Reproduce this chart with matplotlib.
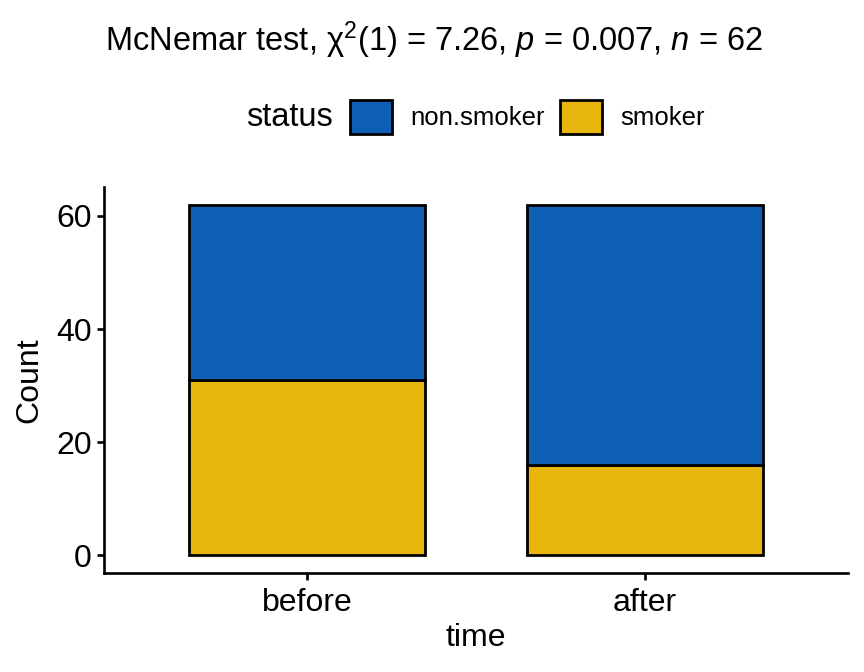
import matplotlib
matplotlib.use("Agg")
import matplotlib.pyplot as plt
from matplotlib.patches import Patch
import numpy as np

plt.rcParams['font.family'] = ['Liberation Sans', 'DejaVu Sans']
plt.rcParams['mathtext.fontset'] = 'custom'
plt.rcParams['mathtext.rm'] = 'Liberation Sans'
plt.rcParams['mathtext.it'] = 'Liberation Sans:italic'
plt.rcParams['mathtext.sf'] = 'Liberation Sans'

times = ["before", "after"]
statuses = ["non.smoker", "smoker"]
smoker = [31, 16]
non_smoker = [31, 46]
colors = {"non.smoker": "#0E5EB6", "smoker": "#E8B50C"}
y_ticks = [0, 20, 40, 60]

fig = plt.figure(figsize=(8.64, 6.72), dpi=100)
W, H = 864, 672
ax = fig.add_axes([104 / W, (H - 573) / H, (848 - 104) / W, (573 - 187) / H])

x = np.arange(len(times))
lw = 2.0
ax.bar(x, smoker, width=0.7, color=colors["smoker"], edgecolor="black", linewidth=lw)
ax.bar(x, non_smoker, width=0.7, bottom=smoker, color=colors["non.smoker"],
       edgecolor="black", linewidth=lw)

ax.set_xlim(-0.6, 1.6)
total = max(s + n for s, n in zip(smoker, non_smoker))
ax.set_ylim(-0.05 * total, total * 1.05)
ax.set_xticks(x)
ax.set_xticklabels(times)
ax.set_yticks(y_ticks)
for side in ["top", "right"]:
    ax.spines[side].set_visible(False)
for side in ["left", "bottom"]:
    ax.spines[side].set_linewidth(1.9)
ax.tick_params(axis="both", labelsize=23, width=1.9, length=5, color="black", pad=4)
ax.tick_params(axis="x", pad=5.5)
ax.set_xlabel("time", fontsize=23, labelpad=4)
ax.set_ylabel("Count", fontsize=23, labelpad=8)

fig.text(434 / W, 1 - 40 / H,
         r"McNemar test, χ$^{2}$(1) = 7.26, $\mathit{p}$ = 0.007, $\mathit{n}$ = 62",
         ha="center", va="center", fontsize=23.5)

handles = [Patch(facecolor=colors[s], edgecolor="black", linewidth=lw) for s in statuses]
leg = fig.legend(handles, statuses, loc="center left", bbox_to_anchor=(350 / W, 1 - 117 / H),
                 ncol=2, frameon=False, fontsize=18.5, handlelength=1.63, handleheight=1.63,
                 columnspacing=0.62, handletextpad=0.7, borderaxespad=0, borderpad=0)
fig.text(333 / W, 1 - 117 / H, "status", ha="right", va="center", fontsize=23.5)

fig.savefig("out.png", dpi=100)
